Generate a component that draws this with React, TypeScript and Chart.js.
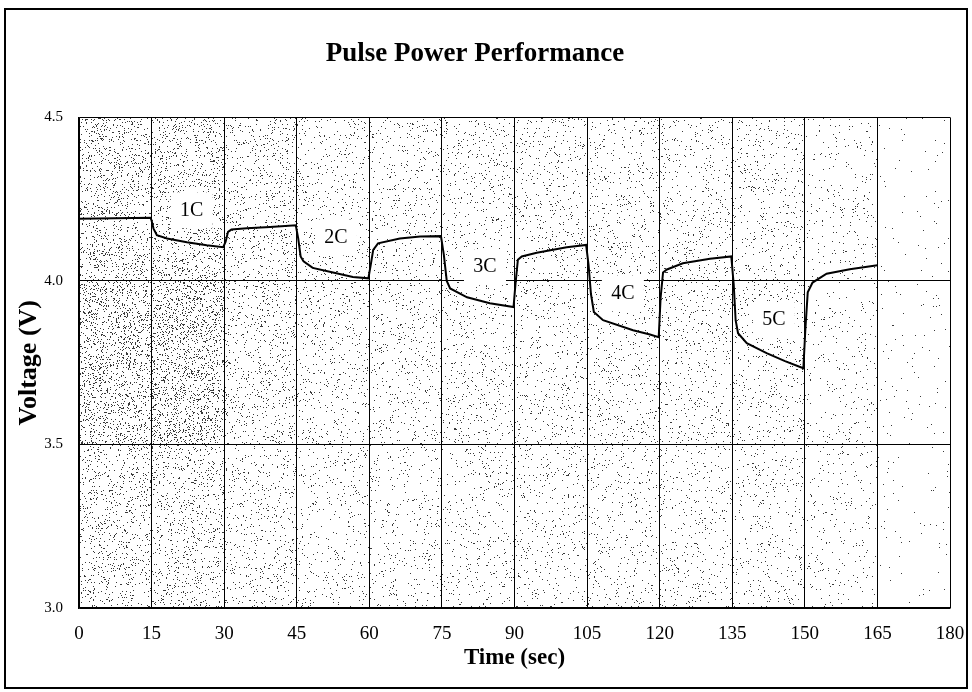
import React, { useEffect, useRef } from "react";
import { Chart, registerables } from "chart.js";

Chart.register(...registerables);

const timeSec = [
  0, 14.8, 15, 15.4, 16.1, 18.2, 22.3, 26.4, 29.8,
  30.3, 30.8, 31.5, 34.7, 39.5, 44.8,
  45.3, 45.8, 46.4, 48.3, 52.5, 56.6, 59.8,
  60.3, 60.8, 61.8, 66.3, 70.5, 74.8,
  75.4, 76.0, 76.7, 80.2, 84.9, 89.8,
  90.2, 90.7, 91.5, 94.6, 100.8, 104.8,
  105.3, 105.8, 106.4, 108.3, 114.5, 118, 119.8,
  120.2, 120.7, 121.5, 124.8, 130.4, 134.8,
  135.3, 135.7, 136.2, 138, 142.1, 145.9, 149.7,
  150.1, 150.6, 151.6, 154.5, 159.3, 165,
];

const voltage = [
  4.19, 4.193, 4.185, 4.16, 4.14, 4.13, 4.118, 4.109, 4.103,
  4.12, 4.15, 4.157, 4.161, 4.165, 4.17,
  4.13, 4.075, 4.06, 4.04, 4.026, 4.012, 4.008,
  4.05, 4.095, 4.115, 4.13, 4.136, 4.137,
  4.08, 4.0, 3.977, 3.95, 3.932, 3.92,
  3.99, 4.065, 4.075, 4.086, 4.103, 4.11,
  4.05, 3.96, 3.905, 3.88, 3.849, 3.836, 3.828,
  3.95, 4.026, 4.035, 4.054, 4.068, 4.075,
  3.99, 3.88, 3.84, 3.81, 3.779, 3.755, 3.733,
  3.85, 3.965, 3.995, 4.022, 4.036, 4.048,
];

const pulseLabels = ["1C", "2C", "3C", "4C", "5C"];
const pulseLabelTime = [23.3, 53.1, 83.9, 112.4, 143.6];
const pulseLabelVolt = [4.216, 4.133, 4.042, 3.962, 3.88];

const xTickValues = [0, 15, 30, 45, 60, 75, 90, 105, 120, 135, 150, 165, 180];
const yTickLabels = ["3.0", "3.5", "4.0", "4.5"];

const FONT = "'Liberation Serif', 'Times New Roman', serif";

// stipple texture density of the scanned plot background (decoration only)
function stippleDensity(t: number, v: number): number {
  if (t < 30) {
    if (v >= 3.5 && v < 4.0) return 0.3;
    if (v >= 4.0) return 0.2;
    return 0.15;
  }
  if (t < 45) return v >= 3.5 ? 0.13 : 0.1;
  if (t < 150) return v >= 3.5 ? 0.085 : 0.07;
  if (t < 165) return 0.045;
  return 0.012;
}

function hash01(x: number, y: number): number {
  let h = Math.imul(x, 374761393) + Math.imul(y, 668265263);
  h = Math.imul(h ^ (h >>> 13), 1274126177);
  h = h ^ (h >>> 16);
  return (h >>> 0) / 4294967296;
}

const backgroundPlugin = {
  id: "plotBackground",
  beforeDraw(chart: any) {
    const { ctx, chartArea: a } = chart;
    if (!a) return;
    const xs = chart.scales.x;
    const ys = chart.scales.y;
    ctx.save();
    ctx.fillStyle = "#ffffff";
    ctx.fillRect(a.left, a.top, a.right - a.left, a.bottom - a.top);
    ctx.fillStyle = "#3a3a3a";
    const x0 = Math.floor(a.left);
    const y0 = Math.floor(a.top);
    for (let py = y0; py < a.bottom; py += 1) {
      const v = ys.getValueForPixel(py);
      for (let px = x0; px < a.right; px += 1) {
        const t = xs.getValueForPixel(px);
        const d = stippleDensity(t, v) * 0.45;
        if (hash01(px, py) < d) ctx.fillRect(px, py, 1, 1);
      }
    }
    ctx.restore();
  },
};

const pulseLabelPlugin = {
  id: "pulseLabels",
  beforeDatasetsDraw(chart: any) {
    const { ctx } = chart;
    const xs = chart.scales.x;
    const ys = chart.scales.y;
    ctx.save();
    pulseLabels.forEach((txt, i) => {
      const px = xs.getPixelForValue(pulseLabelTime[i]);
      const py = ys.getPixelForValue(pulseLabelVolt[i]);
      ctx.fillStyle = "#ffffff";
      ctx.fillRect(px - 21, py - 18, 42, 36);
      ctx.fillStyle = "#000000";
      ctx.font = `20px ${FONT}`;
      ctx.textAlign = "center";
      ctx.textBaseline = "middle";
      ctx.fillText(txt, px, py);
    });
    ctx.restore();
  },
};

export default function App() {
  const canvasRef = useRef<HTMLCanvasElement | null>(null);

  useEffect(() => {
    if (!canvasRef.current) return;
    const points = timeSec.map((t, i) => ({ x: t, y: voltage[i] }));
    const chart = new Chart(canvasRef.current, {
      type: "line",
      data: {
        datasets: [
          {
            label: "Voltage",
            data: points,
            borderColor: "#000000",
            borderWidth: 2,
            pointRadius: 0,
            tension: 0,
            fill: false,
          },
        ],
      },
      options: {
        animation: false,
        responsive: false,
        maintainAspectRatio: false,
        layout: { padding: { left: 0, right: 22, top: 0, bottom: 0 } },
        plugins: {
          legend: { display: false },
          tooltip: { enabled: false },
          title: {
            display: true,
            text: "Pulse Power Performance",
            color: "#000000",
            font: { family: FONT, size: 27, weight: "bold" },
            padding: { top: 38, bottom: 47 },
          },
        },
        scales: {
          x: {
            type: "linear",
            min: 0,
            max: 180,
            afterBuildTicks(scale: any) {
              scale.ticks = xTickValues.map((v) => ({ value: v }));
            },
            ticks: {
              color: "#000000",
              font: { family: FONT, size: 19 },
              padding: 15,
              maxRotation: 0,
              autoSkip: false,
              callback: (v: any) => String(v),
            },
            grid: { color: "#000000", lineWidth: 1, drawTicks: false },
            border: { color: "#000000", width: 1.5 },
            title: {
              display: true,
              text: "Time (sec)",
              color: "#000000",
              font: { family: FONT, size: 23, weight: "bold" },
              padding: { top: 0, bottom: 20 },
            },
            afterFit(scale: any) {
              scale.height = 84;
              scale.paddingLeft = 0;
              scale.paddingRight = 0;
            },
          },
          y: {
            type: "linear",
            min: 3.0,
            max: 4.5,
            ticks: {
              stepSize: 0.5,
              color: "#000000",
              font: { family: FONT, size: 15 },
              padding: 16,
              callback: (v: any) => {
                const idx = Math.round((Number(v) - 3.0) / 0.5);
                return yTickLabels[idx] ?? "";
              },
            },
            grid: { color: "#000000", lineWidth: 1, drawTicks: false },
            border: { color: "#000000", width: 1.5 },
            title: {
              display: true,
              text: "Voltage (V)",
              color: "#000000",
              font: { family: FONT, size: 26, weight: "bold" },
              padding: { top: 14, bottom: 0 },
            },
            afterFit(scale: any) {
              scale.width = 79;
              scale.paddingTop = 0;
              scale.paddingBottom = 0;
            },
          },
        },
      },
      plugins: [backgroundPlugin, pulseLabelPlugin],
    });
    return () => chart.destroy();
  }, []);

  return (
    <div
      style={{
        position: "fixed",
        left: 0,
        top: 0,
        width: 972,
        height: 692,
        background: "#ffffff",
        overflow: "hidden",
      }}
    >
      <canvas ref={canvasRef} width={972} height={692} style={{ display: "block" }} />
      <div
        style={{
          position: "absolute",
          left: 4,
          top: 8,
          width: 964,
          height: 681,
          boxSizing: "border-box",
          border: "2px solid #000000",
          pointerEvents: "none",
        }}
      />
    </div>
  );
}
